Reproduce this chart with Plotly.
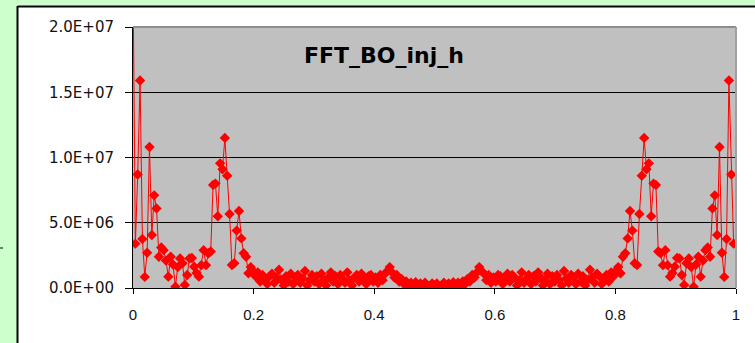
import plotly.graph_objects as go

# FFT magnitude, in millions (1E+06), one value per frequency bin k = 0..255
fft_mag_millions = [
    24.0, 3.4, 8.7, 15.9, 3.75, 0.85, 2.7, 10.8, 4.06, 7.1,
    6.1, 2.4, 3.1, 2.9, 2.1, 0.87, 2.4, 1.8, 0.1, 1.6,
    2.27, 1.9, 0.23, 1.0, 2.27, 2.3, 1.63, 1.15, 0.87, 1.75,
    2.9, 1.75, 2.66, 2.8, 7.9, 8.0, 5.5, 9.55, 9.1, 11.5,
    8.6, 5.67, 1.76, 1.9, 4.4, 5.9, 3.8, 2.66, 2.4, 1.13,
    1.6, 1.3, 0.9, 1.2, 0.5, 1.0, 0.7, 0.3, 0.9, 1.1,
    0.4, 0.8, 1.4, 0.6, 0.2, 0.9, 0.5, 1.1, 0.3, 0.8,
    1.0, 0.4, 0.7, 1.3, 0.2, 0.6, 1.0, 0.5, 0.9, 0.3,
    1.1, 0.6, 0.2, 0.8, 1.2, 0.5, 0.9, 0.3, 1.0, 0.7,
    0.4, 1.2, 0.6, 0.2, 0.8, 1.0, 0.5, 1.1, 0.7, 0.3,
    0.9, 1.0, 0.5, 0.8, 0.4, 1.0, 0.6, 1.1, 1.3, 1.6,
    1.2, 0.8, 1.0, 0.5, 0.7, 0.3, 0.5, 0.1, 0.4, 0.15,
    0.45, 0.1, 0.35, 0.1, 0.4, 0.2, 0.1, 0.35, 0.2,
    # second half (mirror image of the first)
    0.35, 0.1, 0.2, 0.4, 0.1, 0.35, 0.1, 0.45, 0.15, 0.4,
    0.1, 0.5, 0.3, 0.7, 0.5, 1.0, 0.8, 1.2, 1.6, 1.3,
    1.1, 0.6, 1.0, 0.4, 0.8, 0.5, 1.0, 0.9, 0.3, 0.7,
    1.1, 0.5, 1.0, 0.8, 0.2, 0.6, 1.2, 0.4, 0.7, 1.0,
    0.3, 0.9, 0.5, 1.2, 0.8, 0.2, 0.6, 1.1, 0.3, 0.9,
    0.5, 1.0, 0.6, 0.2, 1.3, 0.7, 0.4, 1.0, 0.8, 0.3,
    1.1, 0.5, 0.9, 0.2, 0.6, 1.4, 0.8, 0.4, 1.1, 0.9,
    0.3, 0.7, 1.0, 0.5, 1.2, 0.9, 1.3, 1.6, 1.13, 2.4,
    2.66, 3.8, 5.9, 4.4, 1.9, 1.76, 5.67, 8.6, 11.5, 9.1,
    9.55, 5.5, 8.0, 7.9, 2.8, 2.66, 1.75, 2.9, 1.75, 0.87,
    1.15, 1.63, 2.3, 2.27, 1.0, 0.23, 1.9, 2.27, 1.6, 0.1,
    1.8, 2.4, 0.87, 2.1, 2.9, 3.1, 2.4, 6.1, 7.1, 4.06,
    10.8, 2.7, 0.85, 3.75, 15.9, 8.7, 3.4,
]

y_tick_vals = [0, 5e6, 1e7, 1.5e7, 2e7]
y_tick_text = ["0.0E+00", "5.0E+06", "1.0E+07", "1.5E+07", "2.0E+07"]
x_tick_vals = [0, 0.2, 0.4, 0.6, 0.8, 1]
x_tick_text = ["0", "0.2", "0.4", "0.6", "0.8", "1"]
title_text = "FFT_BO_inj_h"

n_bins = len(fft_mag_millions)
freq = [k / n_bins for k in range(n_bins)]
mag = [v * 1e6 for v in fft_mag_millions]

W, H = 755, 343
L, R, T, B = 133, 19, 27, 55
PW, PH = W - L - R, H - T - B


def px_x(px):
    return (px - L) / PW


def px_y(py):
    return (H - B - py) / PH


fig = go.Figure()
fig.add_trace(go.Scatter(
    x=freq, y=mag, mode="lines+markers",
    line=dict(color="#ff0000", width=1),
    marker=dict(symbol="diamond", size=8, color="#ff0000", line=dict(width=0)),
    showlegend=False, hoverinfo="skip",
))

shapes = [
    # light green page border
    dict(type="rect", xref="paper", yref="paper", x0=px_x(0), x1=px_x(17),
         y0=px_y(H), y1=px_y(0), fillcolor="#ccffcc", line=dict(width=0), layer="below"),
    dict(type="rect", xref="paper", yref="paper", x0=px_x(0), x1=px_x(W),
         y0=px_y(5.5), y1=px_y(0), fillcolor="#ccffcc", line=dict(width=0), layer="below"),
    # chart-area black frame
    dict(type="line", xref="paper", yref="paper", x0=px_x(17.5), x1=px_x(17.5),
         y0=px_y(6), y1=px_y(H), line=dict(color="black", width=2)),
    dict(type="line", xref="paper", yref="paper", x0=px_x(17.5), x1=px_x(W),
         y0=px_y(6.5), y1=px_y(6.5), line=dict(color="black", width=2)),
    # small stray dash at far left
    dict(type="line", xref="paper", yref="paper", x0=px_x(0), x1=px_x(3),
         y0=px_y(248), y1=px_y(248), line=dict(color="black", width=1)),
    # gray plot-area border (top and right)
    dict(type="line", xref="paper", yref="paper", x0=0, x1=1, y0=1, y1=1,
         line=dict(color="#8c8c8c", width=2)),
    dict(type="line", xref="paper", yref="paper", x0=1, x1=1, y0=0, y1=1,
         line=dict(color="#a0a0a0", width=2)),
]

fig.update_layout(
    width=W, height=H,
    margin=dict(l=L, r=R, t=T, b=B, pad=0),
    paper_bgcolor="white",
    plot_bgcolor="#c0c0c0",
    shapes=shapes,
    annotations=[dict(
        text="<b>" + title_text + "</b>", xref="paper", yref="paper",
        x=px_x(384), y=px_y(55), xanchor="center", yanchor="middle",
        showarrow=False, font=dict(family="DejaVu Sans", size=22, color="black"),
    )],
    xaxis=dict(
        range=[0, 1], tickvals=x_tick_vals, ticktext=x_tick_text,
        showgrid=False, zeroline=False, showline=True, linecolor="black", linewidth=1,
        ticks="outside", ticklen=5, tickcolor="black", tickwidth=1,
        tickfont=dict(family="Liberation Sans", size=15, color="#111111"),
        ticklabelstandoff=8, fixedrange=True,
    ),
    yaxis=dict(
        range=[0, 2e7], tickvals=y_tick_vals, ticktext=y_tick_text,
        showgrid=True, gridcolor="black", gridwidth=1,
        zeroline=False, showline=True, linecolor="black", linewidth=1,
        ticks="outside", ticklen=7, tickcolor="black", tickwidth=1,
        tickfont=dict(family="DejaVu Sans", size=15, color="#111111"),
        ticklabelstandoff=8, fixedrange=True,
    ),
)

fig.write_html("out.html")
